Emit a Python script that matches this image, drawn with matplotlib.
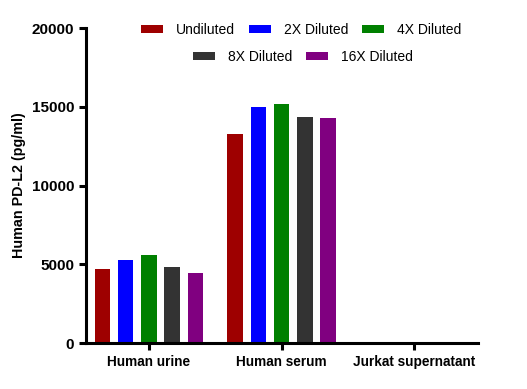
# PD-L2 dilution linearity chart

import matplotlib
matplotlib.use("Agg")
import matplotlib.pyplot as plt
import numpy as np

plt.rcParams['font.family'] = ['Liberation Sans', 'DejaVu Sans']

samples = ["Human urine", "Human serum", "Jurkat supernatant"]
series = ["Undiluted", "2X Diluted", "4X Diluted", "8X Diluted", "16X Diluted"]
colors = ["#9e0000", "#0000ff", "#008000", "#333333", "#800080"]

# values per dilution, one per sample (pg/ml)
undiluted = [4700, 13270, 0]
diluted_2x = [5270, 15000, 0]
diluted_4x = [5590, 15180, 0]
diluted_8x = [4830, 14350, 0]
diluted_16x = [4450, 14290, 0]
values = [undiluted, diluted_2x, diluted_4x, diluted_8x, diluted_16x]

fig = plt.figure(figsize=(5.27, 3.89), dpi=100)
ax = fig.add_axes([0.163, 0.118, 0.744, 0.81])

x = np.arange(len(samples))
step = 0.175
width = 0.117
handles = []
for i, (name, vals) in enumerate(zip(series, values)):
    b = ax.bar(x + (i - 2) * step, vals, width, color=colors[i], label=name)
    handles.append(b)

ax.set_xlim(-0.475, 2.48)
ax.set_ylim(0, 20000)
ax.set_yticks([0, 5000, 10000, 15000, 20000])
ax.set_xticks(x)
ax.set_xticklabels(samples, fontweight='bold', fontsize=9.8)
for t in ax.get_yticklabels():
    t.set_fontweight('bold')
    t.set_fontsize(11)
ax.set_ylabel("Human PD-L2 (pg/ml)", fontweight='bold', fontsize=10.3)

for s in ['top', 'right']:
    ax.spines[s].set_visible(False)
for s in ['left', 'bottom']:
    ax.spines[s].set_linewidth(2.2)
ax.tick_params(axis='both', width=2.2, length=5, direction='out')

legend_kw = dict(loc='center', frameon=False, fontsize=10, handlelength=1.6, handleheight=0.5,
                 columnspacing=1.0, handletextpad=0.9)
leg1 = fig.legend(handles[:3], series[:3], bbox_to_anchor=(301 / 527, 1 - 30 / 389), ncol=3, **legend_kw)
leg2 = fig.legend(handles[3:], series[3:], bbox_to_anchor=(303 / 527, 1 - 57 / 389), ncol=2, **legend_kw)

fig.savefig("out.png", dpi=100)
